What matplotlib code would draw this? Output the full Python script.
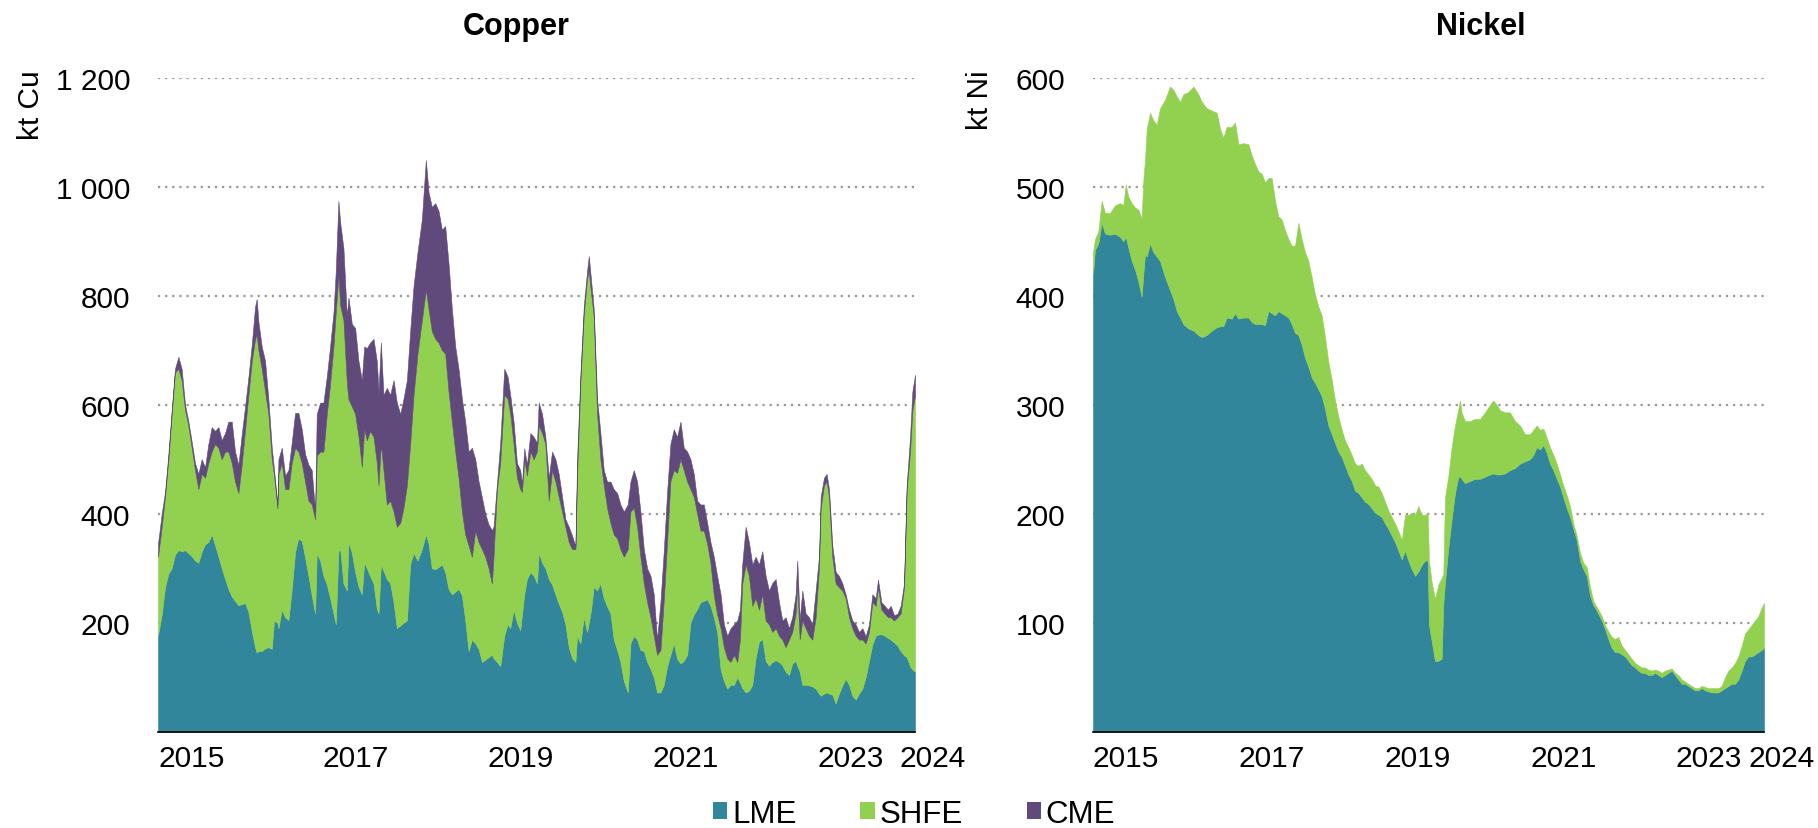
import matplotlib
matplotlib.use("Agg")
import matplotlib.pyplot as plt
from matplotlib.patches import Patch
from matplotlib.ticker import FuncFormatter, FixedLocator

plt.rcParams['font.family'] = ['Liberation Sans', 'DejaVu Sans']

# ---------------- data (kt) ----------------
series_names = ["LME", "SHFE", "CME"]
colors = {"LME": "#31869B", "SHFE": "#92D050", "CME": "#604A7B"}

cu_year = [2015.000, 2015.045, 2015.085, 2015.126, 2015.166, 2015.206, 2015.247, 2015.287, 2015.328, 2015.368,
           2015.409, 2015.449, 2015.490, 2015.530, 2015.571, 2015.611, 2015.652, 2015.692, 2015.733, 2015.773,
           2015.814, 2015.854, 2015.895, 2015.935, 2015.976, 2016.016, 2016.057, 2016.097, 2016.138, 2016.178,
           2016.198, 2016.219, 2016.259, 2016.300, 2016.340, 2016.381, 2016.409, 2016.449, 2016.462, 2016.502,
           2016.543, 2016.583, 2016.623, 2016.664, 2016.704, 2016.745, 2016.785, 2016.826, 2016.866, 2016.907,
           2016.927, 2016.968, 2017.008, 2017.049, 2017.089, 2017.130, 2017.158, 2017.190,
           2017.211, 2017.251, 2017.292, 2017.312, 2017.353, 2017.393, 2017.434, 2017.474, 2017.503, 2017.535,
           2017.575, 2017.616, 2017.656, 2017.677, 2017.705, 2017.737, 2017.778, 2017.818, 2017.859, 2017.899,
           2017.940, 2017.980, 2018.021, 2018.061, 2018.102, 2018.150, 2018.203, 2018.251, 2018.284, 2018.324,
           2018.365, 2018.405, 2018.446, 2018.486, 2018.527, 2018.567, 2018.608, 2018.648, 2018.689, 2018.729,
           2018.770, 2018.810, 2018.851, 2018.891, 2018.932, 2018.972, 2019.013, 2019.053, 2019.073, 2019.114,
           2019.154, 2019.203, 2019.243, 2019.276, 2019.316, 2019.357, 2019.397, 2019.418, 2019.446, 2019.478,
           2019.520, 2019.560, 2019.601, 2019.621, 2019.662, 2019.702, 2019.743, 2019.783, 2019.824, 2019.864,
           2019.905, 2019.945, 2019.986, 2020.026, 2020.067, 2020.087, 2020.127, 2020.168, 2020.208, 2020.229,
           2020.257, 2020.289, 2020.330, 2020.370, 2020.411, 2020.451, 2020.492, 2020.532, 2020.573, 2020.613,
           2020.654, 2020.702, 2020.735, 2020.775, 2020.816, 2020.856, 2020.897, 2020.937, 2020.978, 2021.018,
           2021.058, 2021.099, 2021.139, 2021.180, 2021.220, 2021.261, 2021.301, 2021.342, 2021.382, 2021.423,
           2021.463, 2021.504, 2021.544, 2021.585, 2021.625, 2021.666, 2021.706, 2021.747, 2021.787,
           2021.829, 2021.869, 2021.910, 2021.950, 2021.991, 2022.031, 2022.064, 2022.092, 2022.133, 2022.173,
           2022.214, 2022.254, 2022.295, 2022.335, 2022.376, 2022.416, 2022.457, 2022.497, 2022.538, 2022.578,
           2022.618, 2022.659, 2022.699, 2022.740, 2022.760, 2022.789, 2022.821, 2022.861, 2022.902, 2022.942,
           2022.983, 2023.023, 2023.044, 2023.084, 2023.116, 2023.145, 2023.185, 2023.226, 2023.266, 2023.307,
           2023.347, 2023.388, 2023.428, 2023.469, 2023.509, 2023.550, 2023.590, 2023.631, 2023.671, 2023.712,
           2023.740, 2023.780, 2023.821, 2023.861, 2023.894, 2023.934, 2023.975, 2024.015, 2024.056, 2024.088,
           2024.129, 2024.157, 2024.189]

cu_lme = [176, 215, 265, 290, 300, 325, 333, 331, 333, 328,
          322, 314, 310, 330, 344, 348, 362, 342, 322, 300,
          280, 262, 248, 240, 232, 234, 236, 220, 185, 155,
          145, 148, 148, 153, 155, 152, 204, 200, 190, 224,
          210, 205, 260, 330, 355, 350, 320, 286, 250, 217,
          328, 314, 286, 270, 245, 217, 197, 331,
          335, 272, 259, 348, 328, 293, 266, 252, 310, 300,
          285, 272, 225, 217, 307, 295, 280, 272, 238, 190,
          195, 200, 204, 307, 328, 314, 335, 362, 345, 300,
          298, 302, 307, 293, 262, 252, 257, 262, 250, 205,
          148, 169, 162, 152, 128, 132, 137, 141, 135, 128,
          120, 176, 197, 190, 224, 200, 186, 215, 252, 280,
          293, 286, 272, 328, 310, 300, 280, 270, 252, 235,
          220, 197, 155, 135, 128, 176, 162, 210, 183, 200,
          224, 266, 259, 272, 245, 230, 217, 169, 150, 128,
          93, 72, 162, 176, 169, 150, 148, 128, 115, 100,
          72, 72, 86, 120, 141, 162, 134, 125, 130, 141,
          200, 215, 225, 238, 240, 243, 231, 210, 183,
          114, 93, 79, 86, 86, 100, 90, 80, 72, 75,
          86, 135, 165, 170, 130, 121, 128, 131, 128, 122,
          110, 104, 125, 130, 121, 110, 86, 86, 85, 83,
          79, 70, 66, 70, 72, 70, 68, 52, 70, 85,
          97, 86, 66, 59, 70, 79, 100, 130, 160, 176,
          178, 179, 176, 172, 169, 164, 158, 148, 140, 137,
          120, 114, 110]

cu_shfe = [145, 161, 166, 210, 283, 334, 333, 314, 257, 234,
           199, 166, 135, 143, 122, 145, 152, 186, 199, 200,
           234, 252, 245, 219, 206, 256, 319, 397, 495, 565,
           583, 552, 518, 471, 428, 348, 266, 210, 283, 269,
           235, 240, 233, 191, 159, 143, 139, 138, 167, 173,
           179, 200, 228, 313, 393, 490, 573, 507,
           448, 483, 381, 262, 269, 290, 275, 234, 245, 235,
           267, 269, 268, 235, 221, 185, 137, 152, 166, 186,
           188, 211, 248, 221, 290, 380, 420, 449, 431, 435,
           423, 412, 393, 401, 362, 317, 257, 204, 154, 157,
           194, 152, 207, 196, 207, 189, 163, 131, 186, 317,
           373, 442, 414, 393, 304, 266, 259, 225, 248, 190,
           221, 214, 243, 234, 238, 228, 144, 210, 207, 196,
           184, 179, 193, 200, 207, 294, 478, 555, 649, 645,
           580, 496, 324, 228, 207, 181, 166, 193, 205, 207,
           228, 263, 242, 235, 207, 171, 124, 110, 95, 76,
           69, 78, 154, 230, 319, 318, 341, 375, 350, 318,
           245, 216, 175, 131, 129, 102, 79, 40, 32,
           76, 62, 55, 42, 55, 28, 79, 192, 235, 211,
           145, 110, 59, 82, 74, 76, 55, 59, 48, 47,
           45, 65, 58, 87, 151, 59, 118, 104, 91, 86,
           131, 230, 345, 382, 387, 361, 253, 220, 195, 174,
           148, 124, 124, 117, 99, 90, 62, 53, 78, 55,
           87, 45, 41, 38, 41, 40, 52, 69, 125, 308,
           394, 476, 507]

cu_cme = [24, 24, 9, 10, 7, 7, 22, 21, 10, 8,
          11, 13, 28, 27, 19, 35, 45, 24, 38, 35,
          34, 55, 76, 55, 52, 55, 42, 33, 30, 60,
          66, 52, 41, 56, 27, 21, 10, 7, 27, 28,
          25, 35, 37, 64, 71, 62, 51, 66, 63, 14,
          76, 90, 90, 69, 69, 62, 75, 136,
          152, 132, 122, 187, 151, 158, 139, 159, 152, 169,
          162, 180, 187, 172, 186, 138, 214, 194, 241, 228,
          200, 200, 193, 207, 200, 186, 185, 238, 214, 228,
          249, 242, 221, 234, 235, 207, 193, 200, 207, 207,
          172, 200, 131, 112, 95, 79, 80, 98, 55, 10,
          37, 48, 41, 35, 41, 27, 35, 15, 20, 20,
          34, 41, 15, 42, 35, 13, 42, 34, 41, 42,
          27, 14, 28, 25, 5, 30, 15, 15, 13, 28,
          24, 14, 28, 48, 28, 48, 76, 83, 83, 82,
          83, 82, 55, 69, 83, 83, 63, 62, 76, 76,
          28, 88, 90, 90, 68, 75, 66, 69, 41, 55,
          55, 42, 24, 48, 48, 38, 38, 71, 71,
          62, 42, 42, 62, 56, 76, 55, 35, 69, 62,
          76, 76, 83, 79, 82, 62, 90, 90, 62, 35,
          55, 21, 27, 35, 42, 35, 55, 27, 34, 28,
          49, 21, 20, 14, 14, 14, 21, 21, 21, 13,
          7, 14, 14, 21, 14, 21, 13, 14, 14, 14,
          14, 14, 14, 14, 21, 10, 6, 14, 7, 7,
          27, 34, 38]

ni_year = [2015.000, 2015.027, 2015.073, 2015.119, 2015.165, 2015.233, 2015.302, 2015.371, 2015.416, 2015.449,
           2015.485, 2015.531, 2015.577, 2015.622, 2015.668, 2015.691, 2015.714, 2015.737, 2015.783, 2015.828,
           2015.874, 2015.920, 2015.989, 2016.057, 2016.103, 2016.149, 2016.195, 2016.240, 2016.309, 2016.378,
           2016.446, 2016.492, 2016.561, 2016.629, 2016.698, 2016.744, 2016.789, 2016.835, 2016.904, 2016.950,
           2016.995, 2017.064, 2017.133, 2017.178,
           2017.224, 2017.270, 2017.316, 2017.361, 2017.407, 2017.453, 2017.499, 2017.544, 2017.590, 2017.636,
           2017.682, 2017.727, 2017.773, 2017.819, 2017.865, 2017.910, 2017.956, 2018.002, 2018.048, 2018.094,
           2018.139, 2018.185, 2018.231, 2018.277, 2018.322, 2018.368, 2018.414, 2018.460, 2018.505, 2018.551,
           2018.597, 2018.643, 2018.688, 2018.734, 2018.780, 2018.826, 2018.872, 2018.917, 2018.963, 2019.009,
           2019.055, 2019.100, 2019.146, 2019.192, 2019.238, 2019.283, 2019.329, 2019.375, 2019.421, 2019.467,
           2019.512,
           2019.557, 2019.594, 2019.612, 2019.649, 2019.694, 2019.740, 2019.786, 2019.809, 2019.832, 2019.877,
           2019.923, 2019.969, 2020.015, 2020.037, 2020.060, 2020.106, 2020.175, 2020.243, 2020.312, 2020.381,
           2020.449, 2020.495, 2020.541, 2020.587, 2020.655, 2020.724, 2020.793, 2020.861, 2020.930, 2020.999,
           2021.045, 2021.090, 2021.136, 2021.182, 2021.227, 2021.273, 2021.319, 2021.365, 2021.411, 2021.456,
           2021.502, 2021.548, 2021.594, 2021.639, 2021.685, 2021.731, 2021.777, 2021.822, 2021.868,
           2021.891, 2021.937, 2021.983, 2022.028, 2022.074, 2022.120, 2022.166, 2022.211, 2022.257, 2022.303,
           2022.349, 2022.394, 2022.440, 2022.486, 2022.532, 2022.577, 2022.623, 2022.669, 2022.715, 2022.761,
           2022.806, 2022.852, 2022.898, 2022.944, 2022.989, 2023.035, 2023.081, 2023.127, 2023.172, 2023.218,
           2023.264, 2023.310, 2023.355, 2023.401, 2023.447, 2023.493, 2023.539, 2023.584, 2023.630, 2023.676,
           2023.722, 2023.767, 2023.813, 2023.859, 2023.905, 2023.950, 2023.996, 2024.042, 2024.088, 2024.133,
           2024.179, 2024.211]

ni_lme = [420, 442, 448, 467, 457, 456, 457, 454, 450, 454,
          444, 432, 424, 413, 399, 420, 438, 436, 448, 440,
          436, 432, 417, 405, 397, 386, 380, 374, 370, 368,
          364, 362, 364, 368, 371, 372, 372, 380, 379, 384,
          379, 380, 380, 376,
          374, 374, 374, 373, 386, 384, 382, 386, 384, 382,
          380, 374, 366, 364, 355, 343, 335, 325, 320, 314,
          308, 296, 281, 273, 265, 257, 252, 244, 236, 230,
          221, 219, 215, 211, 209, 205, 201, 199, 197, 191,
          186, 180, 174, 166, 158, 166, 157, 149, 143, 147,
          153,
          157, 157, 98, 83, 65, 65, 67, 118, 137, 168,
          195, 219, 234, 234, 232, 228, 230, 232, 232, 234,
          236, 237, 236, 236, 237, 240, 242, 246, 248, 250,
          254, 261, 259, 263, 256, 246, 240, 232, 225, 215,
          205, 197, 186, 176, 157, 149, 143, 125, 116,
          114, 108, 102, 94, 85, 77, 73, 73, 71, 69,
          65, 61, 59, 56, 54, 54, 52, 52, 54, 52,
          50, 52, 54, 56, 52, 48, 44, 44, 42, 40,
          38, 38, 40, 38, 37, 36, 36, 36, 38, 40,
          42, 44, 44, 48, 56, 65, 69, 69, 71, 73,
          75, 77]

ni_shfe = [20, 10, 11, 20, 19, 20, 26, 31, 33, 48,
           47, 53, 57, 66, 72, 86, 87, 117, 120, 121,
           121, 140, 163, 187, 192, 197, 198, 211, 217, 224,
           221, 216, 208, 202, 197, 181, 173, 175, 176, 175,
           160, 160, 159, 153,
           147, 140, 138, 131, 122, 124, 105, 87, 86, 78,
           72, 72, 80, 103, 97, 97, 97, 92, 81, 76,
           74, 66, 58, 50, 39, 32, 25, 23, 25, 24,
           25, 25, 31, 29, 27, 27, 25, 26, 22, 20,
           17, 17, 17, 18, 18, 33, 42, 52, 56, 60,
           46,
           42, 44, 59, 54, 57, 70, 74, 27, 78, 66,
           66, 62, 62, 70, 61, 57, 55, 55, 55, 59,
           64, 67, 64, 59, 56, 53, 43, 35, 25, 23,
           23, 20, 18, 15, 14, 15, 14, 14, 11, 11,
           12, 10, 5, 4, 7, 6, 8, 8, 4,
           3, 4, 4, 4, 7, 10, 12, 14, 8, 6,
           6, 6, 4, 5, 5, 5, 5, 4, 3, 4,
           4, 4, 3, 2, 2, 4, 4, 2, 2, 2,
           2, 2, 2, 3, 3, 4, 4, 4, 4, 10,
           14, 15, 19, 21, 23, 25, 25, 29, 31, 33,
           39, 41]

year_ticks = [2015, 2017, 2019, 2021, 2023, 2024]
cu_yticks = [200, 400, 600, 800, 1000, 1200]
ni_yticks = [100, 200, 300, 400, 500, 600]

# ---------------- figure ----------------
W, H = 1818, 829
fig = plt.figure(figsize=(W / 100, H / 100), dpi=100)

FS = 21.5
ax_bottom = (H - 732.7) / H
ax_height = (732.7 - 78.8) / H
ax_cu = fig.add_axes([158 / W, ax_bottom, (915 - 158) / W, ax_height])
ax_ni = fig.add_axes([1093 / W, ax_bottom, (1764 - 1093) / W, ax_height])


def thousands(v, pos):
    return f"{int(v):,}".replace(",", " ")


def style(ax, yticks, ymax, xmax):
    ax.set_xlim(2015.0, xmax)
    ax.set_ylim(0, ymax)
    ax.yaxis.set_major_locator(FixedLocator(yticks))
    ax.yaxis.set_major_formatter(FuncFormatter(thousands))
    ax.xaxis.set_major_locator(FixedLocator(year_ticks))
    ax.set_xticklabels([str(y) for y in year_ticks])
    for lab in ax.get_xticklabels():
        lab.set_horizontalalignment('left')
    ax.tick_params(axis='both', length=0, labelsize=FS, colors='black')
    ax.tick_params(axis='y', pad=20)
    ax.tick_params(axis='x', pad=9)
    ax.grid(axis='y', color='#999999', linewidth=1.6, linestyle=(0, (1.0, 2.2)))
    ax.set_axisbelow(True)
    for s in ['top', 'right', 'left']:
        ax.spines[s].set_visible(False)
    ax.spines['bottom'].set_color('black')
    ax.spines['bottom'].set_linewidth(1.2)
    ax.spines['bottom'].set_zorder(5)


polys = ax_cu.stackplot(cu_year, cu_lme, cu_shfe, cu_cme,
                        colors=[colors[n] for n in series_names], linewidth=0.4)
for p in polys:
    p.set_edgecolor(p.get_facecolor())
style(ax_cu, cu_yticks, 1200, cu_year[-1])

polys = ax_ni.stackplot(ni_year, ni_lme, ni_shfe,
                        colors=[colors["LME"], colors["SHFE"]], linewidth=0.4)
for p in polys:
    p.set_edgecolor(p.get_facecolor())
style(ax_ni, ni_yticks, 600, ni_year[-1])

# titles and axis labels
fig.text(516 / W, 1 - 27 / H, "Copper", ha='center', va='center', fontsize=22, fontweight='bold')
fig.text(1481 / W, 1 - 27 / H, "Nickel", ha='center', va='center', fontsize=22, fontweight='bold')
fig.text(31 / W, 1 - 70 / H, "kt Cu", rotation=90, ha='center', va='top', fontsize=FS)
fig.text(980 / W, 1 - 70 / H, "kt Ni", rotation=90, ha='center', va='top', fontsize=FS)

# legend
handles = [Patch(facecolor=colors[n], edgecolor='none') for n in series_names]
fig.legend(handles, series_names, loc='center', bbox_to_anchor=(914 / W, (H - 815) / H),
           ncol=3, frameon=False, fontsize=22.5, handlelength=0.45, handleheight=0.45,
           handletextpad=0.15, columnspacing=2.05, borderpad=0, borderaxespad=0)

fig.savefig("out.png", dpi=100)
